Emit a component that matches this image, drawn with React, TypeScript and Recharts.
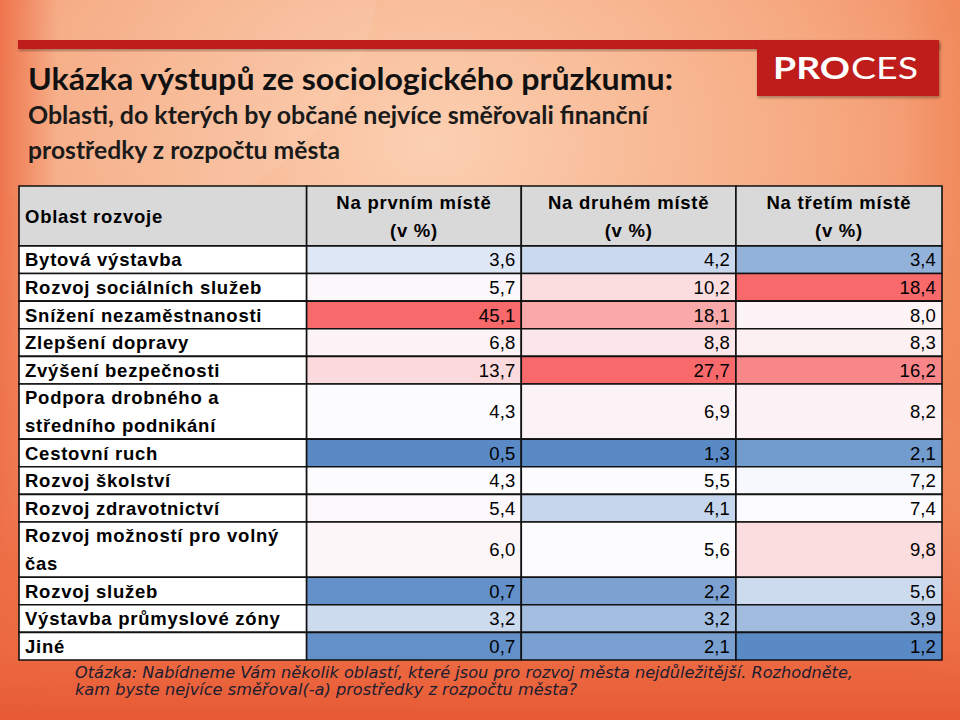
import React from 'react';
import { ComposedChart, XAxis, YAxis, ReferenceArea } from 'recharts';

// ---------- DATA ----------
const columnHeaders: string[][] = [
  ['Oblast rozvoje'],
  ['Na prvním místě', '(v %)'],
  ['Na druhém místě', '(v %)'],
  ['Na třetím místě', '(v %)'],
];

const categories: string[][] = [
  ['Bytová výstavba'],
  ['Rozvoj sociálních služeb'],
  ['Snížení nezaměstnanosti'],
  ['Zlepšení dopravy'],
  ['Zvýšení bezpečnosti'],
  ['Podpora drobného a', 'středního podnikání'],
  ['Cestovní ruch'],
  ['Rozvoj školství'],
  ['Rozvoj zdravotnictví'],
  ['Rozvoj možností pro volný', 'čas'],
  ['Rozvoj služeb'],
  ['Výstavba průmyslové zóny'],
  ['Jiné'],
];

const firstPlace = [3.6, 5.7, 45.1, 6.8, 13.7, 4.3, 0.5, 4.3, 5.4, 6.0, 0.7, 3.2, 0.7];
const secondPlace = [4.2, 10.2, 18.1, 8.8, 27.7, 6.9, 1.3, 5.5, 4.1, 5.6, 2.2, 3.2, 2.1];
const thirdPlace = [3.4, 18.4, 8.0, 8.3, 16.2, 8.2, 2.1, 7.2, 7.4, 9.8, 5.6, 3.9, 1.2];

const titleText = 'Ukázka výstupů ze sociologického průzkumu:';
const subtitleLines = [
  'Oblasti, do kterých by občané nejvíce směřovali finanční',
  'prostředky z rozpočtu města',
];
const footnoteLines = [
  'Otázka: Nabídneme Vám několik oblastí, které jsou pro rozvoj města nejdůležitější. Rozhodněte,',
  'kam byste nejvíce směřoval(-a) prostředky z rozpočtu města?',
];

// ---------- LAYOUT (in axis units) ----------
const COL_UNITS = [1.34, 1, 1, 0.96];
const HEADER_UNITS = 2.17;

const colEdges: number[] = COL_UNITS.reduce(
  (acc: number[], w) => [...acc, acc[acc.length - 1] + w],
  [0]
);
const series = [firstPlace, secondPlace, thirdPlace];

const rowEdges: number[] = categories.reduce(
  (acc: number[], lines) => [...acc, acc[acc.length - 1] + lines.length],
  [HEADER_UNITS]
);
const totalY = rowEdges[rowEdges.length - 1];

// Excel-like 3-colour scale (blue – white – red), per column
const LOW = [90, 138, 198];
const MID = [252, 252, 255];
const HIGH = [248, 105, 107];
function mix(a: number[], b: number[], t: number) {
  const c = a.map((v, i) => Math.round(v + (b[i] - v) * t));
  return `rgb(${c[0]},${c[1]},${c[2]})`;
}
function colorScale(vals: number[]) {
  const s = [...vals].sort((a, b) => a - b);
  const min = s[0];
  const max = s[s.length - 1];
  const mid = s[Math.floor(s.length / 2)];
  return (v: number) => {
    if (v <= mid) return mix(LOW, MID, mid === min ? 1 : (v - min) / (mid - min));
    return mix(MID, HIGH, (v - mid) / (max - mid));
  };
}
const scales = series.map(colorScale);

const fmt = (v: number) => v.toFixed(1).replace('.', ',');

const FONT = '"Liberation Sans", Arial, sans-serif';
const FS = 18.5;

type VB = { x: number; y: number; width: number; height: number };

function CellText(props: any) {
  const vb: VB = props.viewBox;
  const lines: string[] = props.lines;
  const align: 'left' | 'right' | 'center' = props.align;
  const bold: boolean = props.bold;
  const cy = vb.y + vb.height / 2;
  const lh = 28;
  const x =
    align === 'left' ? vb.x + 6 : align === 'right' ? vb.x + vb.width - 6 : vb.x + vb.width / 2;
  const anchor = align === 'left' ? 'start' : align === 'right' ? 'end' : 'middle';
  return (
    <text
      x={x}
      fontFamily={FONT}
      fontSize={FS}
      fontWeight={bold ? 700 : 400}
      letterSpacing={bold ? 0.75 : 0.1}
      fill="#000"
      textAnchor={anchor}
    >
      {lines.map((ln, i) => (
        <tspan key={i} x={x} y={cy + (i - (lines.length - 1) / 2) * lh + FS * 0.36}>
          {ln}
        </tspan>
      ))}
    </text>
  );
}

export default function App() {
  const cells: React.ReactNode[] = [];

  // header
  columnHeaders.forEach((lines, c) => {
    cells.push(
      <ReferenceArea
        key={`h${c}`}
        x1={colEdges[c]}
        x2={colEdges[c + 1]}
        y1={0}
        y2={HEADER_UNITS}
        fill="#d9d9d9"
        fillOpacity={1}
        stroke="#111"
        strokeWidth={1.6}
        ifOverflow="visible"
        label={(p: any) => (
          <CellText viewBox={p.viewBox} lines={lines} align={c === 0 ? 'left' : 'center'} bold />
        )}
      />
    );
  });

  categories.forEach((lines, r) => {
    cells.push(
      <ReferenceArea
        key={`l${r}`}
        x1={colEdges[0]}
        x2={colEdges[1]}
        y1={rowEdges[r]}
        y2={rowEdges[r + 1]}
        fill="#ffffff"
        fillOpacity={1}
        stroke="#111"
        strokeWidth={1.6}
        ifOverflow="visible"
        label={(p: any) => <CellText viewBox={p.viewBox} lines={lines} align="left" bold />}
      />
    );
    series.forEach((vals, s) => {
      const v = vals[r];
      cells.push(
        <ReferenceArea
          key={`c${r}-${s}`}
          x1={colEdges[s + 1]}
          x2={colEdges[s + 2]}
          y1={rowEdges[r]}
          y2={rowEdges[r + 1]}
          fill={scales[s](v)}
          fillOpacity={1}
          stroke="#111"
          strokeWidth={1.6}
          ifOverflow="visible"
          label={(p: any) => (
            <CellText viewBox={p.viewBox} lines={[fmt(v)]} align="right" bold={false} />
          )}
        />
      );
    });
  });

  return (
    <div
      style={{
        position: 'absolute',
        left: 0,
        top: 0,
        width: 960,
        height: 720,
        overflow: 'hidden',
      }}
    >
      <svg width={960} height={720} style={{ position: 'absolute', left: 0, top: 0 }}>
        <defs>
          <radialGradient id="bgR" cx="0.45" cy="0.2" r="0.75">
            <stop offset="0" stopColor="#fbd0b2" />
            <stop offset="0.55" stopColor="#f6a980" />
            <stop offset="1" stopColor="#ee764c" />
          </radialGradient>
          <linearGradient id="bgB" x1="0" y1="0" x2="0" y2="1">
            <stop offset="0.7" stopColor="#ec6840" stopOpacity="0" />
            <stop offset="0.9" stopColor="#ec6840" stopOpacity="0.85" />
            <stop offset="1" stopColor="#e65a34" stopOpacity="1" />
          </linearGradient>
          <linearGradient id="bgL" x1="0" y1="0" x2="1" y2="0">
            <stop offset="0" stopColor="#ee7048" stopOpacity="0.9" />
            <stop offset="0.06" stopColor="#ee7048" stopOpacity="0" />
            <stop offset="0.94" stopColor="#f08858" stopOpacity="0" />
            <stop offset="1" stopColor="#f08858" stopOpacity="0.7" />
          </linearGradient>
          <filter id="sh" x="-5%" y="-20%" width="110%" height="150%">
            <feDropShadow dx="1" dy="2" stdDeviation="1.5" floodColor="#000" floodOpacity="0.3" />
          </filter>
        </defs>
        <rect x={0} y={0} width={960} height={720} fill="url(#bgR)" />
        <circle cx={120} cy={-40} r={260} fill="#fff" fillOpacity={0.07} />
        <circle cx={820} cy={820} r={420} fill="#fff" fillOpacity={0.06} />
        <rect x={0} y={0} width={960} height={720} fill="url(#bgL)" />
        <rect x={0} y={0} width={960} height={720} fill="url(#bgB)" />

        {/* red bar + logo */}
        <rect x={18} y={40} width={921} height={9} fill="#bf1f1c" filter="url(#sh)" />
        <rect x={757} y={40} width={182} height={56} fill="#bf1f1c" filter="url(#sh)" />
        <text x={773} y={79} fill="#fff" fontFamily="Lato, 'Open Sans', sans-serif" fontSize={31}>
          <tspan fontWeight={700} textLength={77} lengthAdjust="spacingAndGlyphs">PRO</tspan>
          <tspan x={851} fontWeight={400} textLength={67} lengthAdjust="spacingAndGlyphs">CES</tspan>
        </text>

        {/* title */}
        <text
          x={28}
          y={90}
          fill="#111"
          fontFamily="Lato, 'Open Sans', sans-serif"
          fontWeight={700}
          fontSize={31}
          textLength={645}
          lengthAdjust="spacingAndGlyphs"
        >
          {titleText}
        </text>
        <text
          x={28}
          y={124}
          fill="#1a1a1a"
          fontFamily="Lato, 'Open Sans', sans-serif"
          fontWeight={700}
          fontSize={24.5}
          textLength={620}
          lengthAdjust="spacingAndGlyphs"
        >
          {subtitleLines[0]}
        </text>
        <text
          x={28}
          y={159}
          fill="#1a1a1a"
          fontFamily="Lato, 'Open Sans', sans-serif"
          fontWeight={700}
          fontSize={24.5}
          textLength={312}
          lengthAdjust="spacingAndGlyphs"
        >
          {subtitleLines[1]}
        </text>

        {/* footnote */}
        <text
          x={75}
          y={678}
          fill="#1c1c30"
          fontFamily="'DejaVu Sans', Verdana, sans-serif"
          fontStyle="italic"
          fontSize={15}
          textLength={778}
          lengthAdjust="spacingAndGlyphs"
        >
          {footnoteLines[0]}
        </text>
        <text
          x={75}
          y={695}
          fill="#1c1c30"
          fontFamily="'DejaVu Sans', Verdana, sans-serif"
          fontStyle="italic"
          fontSize={15}
          textLength={502}
          lengthAdjust="spacingAndGlyphs"
        >
          {footnoteLines[1]}
        </text>
      </svg>

      <div style={{ position: 'absolute', left: 0, top: 0 }}>
        <ComposedChart
          width={960}
          height={720}
          data={categories.map((c, i) => ({ name: c.join(' '), i }))}
          margin={{ top: 186, right: 18, bottom: 60, left: 19 }}
        >
          <XAxis type="number" dataKey="i" domain={[0, colEdges[colEdges.length - 1]]} hide allowDataOverflow />
          <YAxis type="number" domain={[0, totalY]} reversed hide allowDataOverflow />
          {cells}
        </ComposedChart>
      </div>
    </div>
  );
}
